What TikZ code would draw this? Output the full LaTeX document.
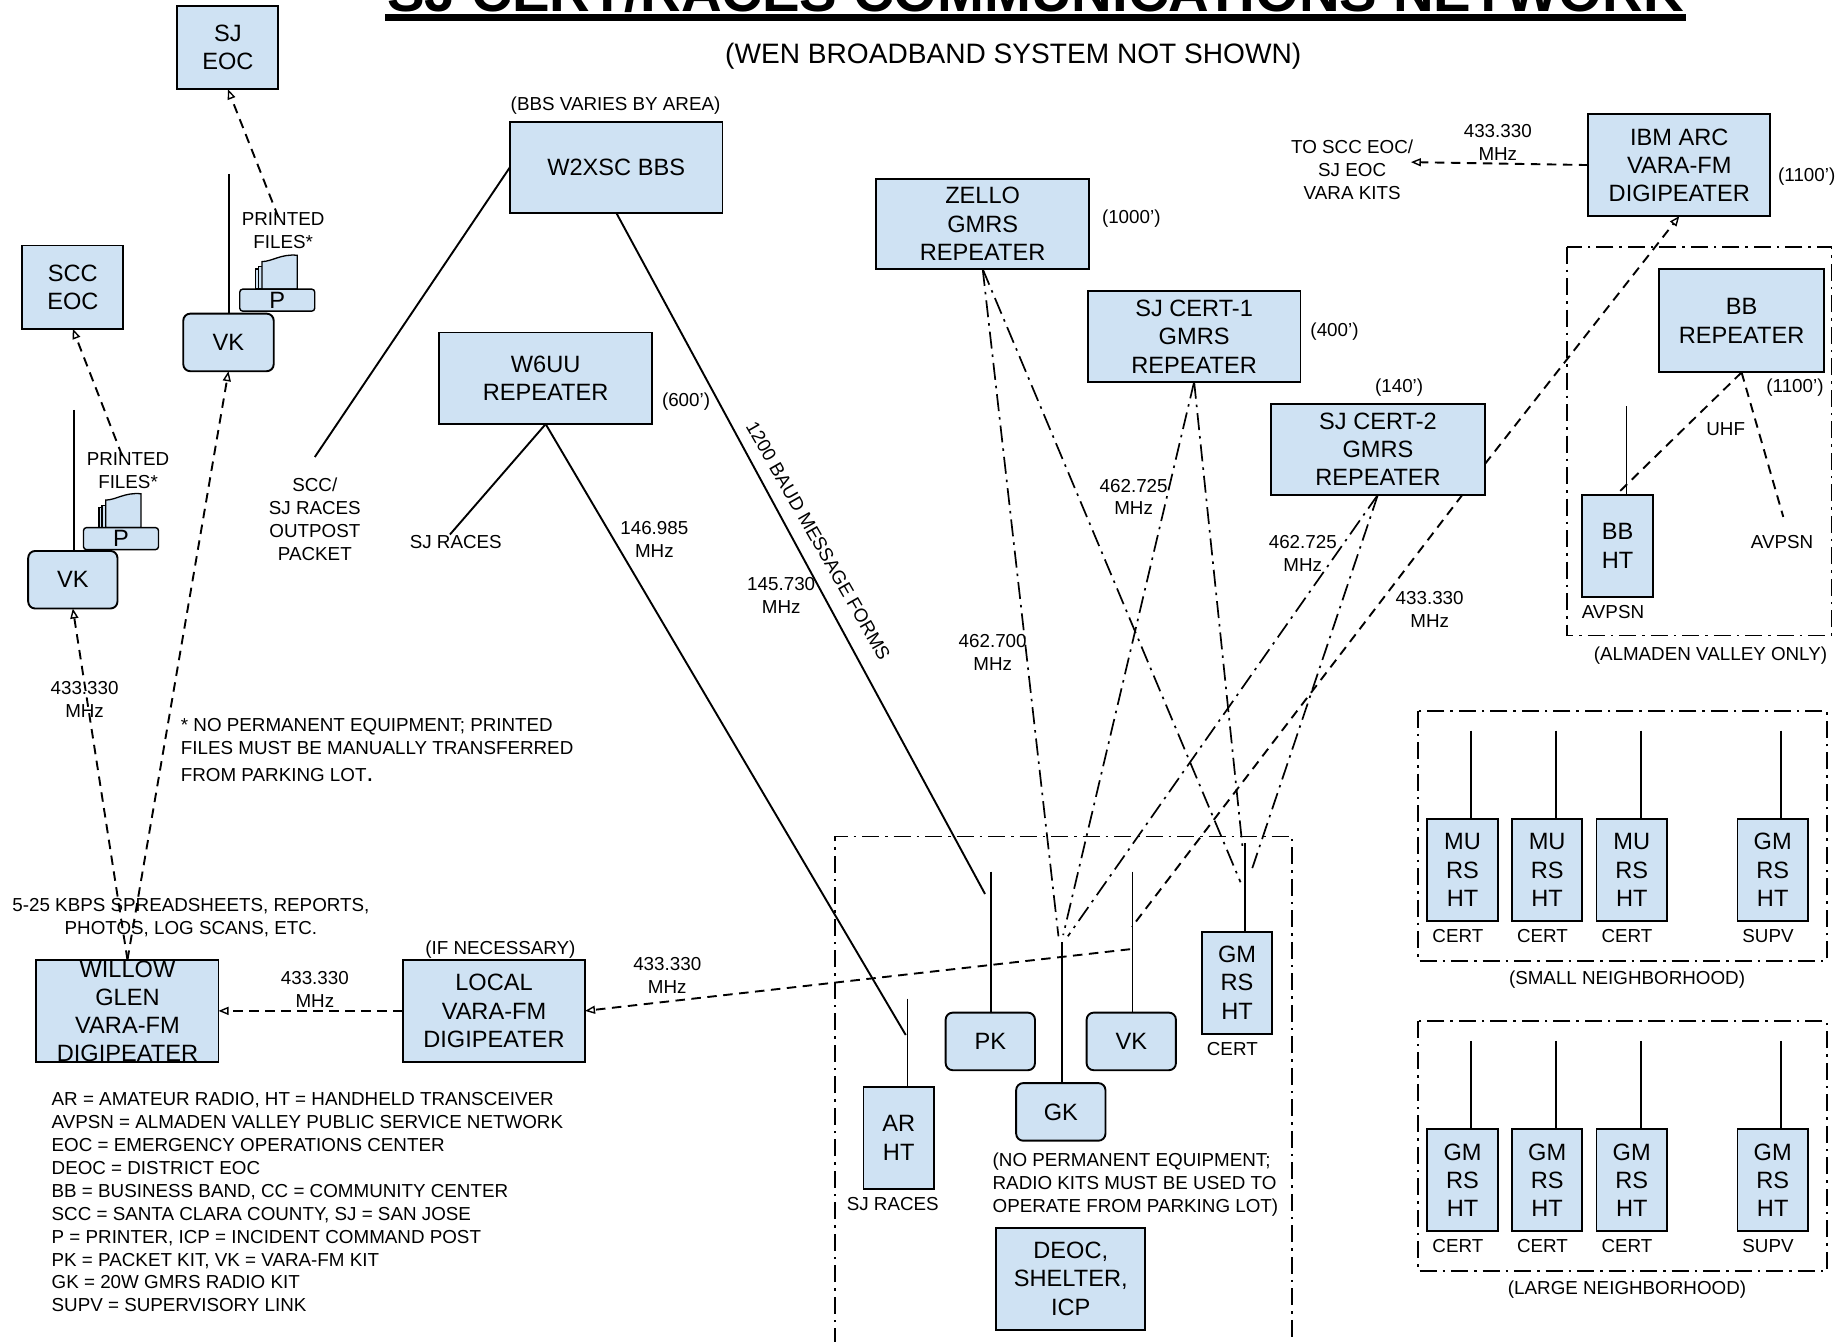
\documentclass[tikz,border=0pt]{standalone}
\usepackage{fontspec}
\setmainfont{Liberation Sans}
\usetikzlibrary{arrows.meta}
\definecolor{boxblue}{HTML}{CFE2F3}
\tikzset{
  base/.style={line width=1.9pt,draw=black},
  sq/.style={base,fill=boxblue,inner sep=0pt,outer sep=0pt,align=center,font=\boxfont},
  rnd/.style={sq,rounded corners=7pt},
  lb/.style={inner sep=0pt,outer sep=0pt,align=center,font=\lblfont},
  lbl/.style={lb,align=left,anchor=west},
  solidln/.style={base},
  dsh/.style={base,dash pattern=on 9.5pt off 6.5pt},
  dshar/.style={dsh,-{Triangle[open,length=10pt,width=8pt,line width=1.4pt]}},
  dd/.style={line width=1.7pt,draw=black,dash pattern=on 17pt off 6pt on 2.5pt off 6pt},
}
\newcommand{\boxfont}{\fontsize{23.6}{28.2}\selectfont}
\newcommand{\lblfont}{\fontsize{18.8}{22.9}\selectfont}
\newcommand{\bx}[7][sq]{\node[#1,minimum width={(#5-#3)*1.1747pt},minimum height={(#6-#4)*1.1747pt}] (#2) at ({(#3+#5)/2},{(#4+#6)/2}) {\raisebox{0pt}[\dimexpr\height+5.2pt\relax][\depth]{\begin{tabular}{@{}c@{}}#7\end{tabular}}};}
\newcommand{\ant}[5]{\coordinate (#1) at (#2,#3); \draw[solidln] (#1) -- (#4 |- #5);}
\newcommand{\printer}[3]{%
  \begin{scope}[shift={(#2,#3)}]
    \draw[line width=1.2pt,fill=boxblue] (13.3,32.5) -- (13.3,15.5) -- (20,15.5) -- (20,32.5) -- cycle;
    \draw[line width=1.2pt,fill=boxblue] (15.8,32.5) -- (15.8,13.5) -- (20,13.5) -- (20,32.5) -- cycle;
    \draw[line width=1.3pt,fill=boxblue] (19,32.5) -- (19,9.2) .. controls (28,9) and (35,2.5) .. (49,3.8) -- (49,32.5) -- cycle;
    \node[rnd,line width=1.4pt,rounded corners=3pt,minimum width=75pt,minimum height=22pt] (#1) at (32,42) {P};
  \end{scope}}
\begin{document}
\begin{tikzpicture}[x=1.1747pt,y=-1.1747pt]
\useasboundingbox (0,0) rectangle (1568,1142);
% title
\node[inner sep=0pt,font=\fontsize{56.3}{60}\selectfont\bfseries,anchor=base] (title) at (881.5,10) {SJ CERT/RACES COMMUNICATIONS NETWORK};
\fill (328,12) rectangle (1435,17.5);
\node[lb,font=\fontsize{28.1}{30}\selectfont] (sub) at (862.5,47.5) {(WEN BROADBAND SYSTEM NOT SHOWN)};

% group frames
\draw[dd] (1334,210) rectangle (1559,541);
\draw[dd] (711,1145) -- (711,712) -- (1100,712) -- (1100,1145);
\draw[dd] (1207,605) rectangle (1555,818);
\draw[dd] (1207,869) rectangle (1555,1082);

% boxes
\bx{sjeoc}{151}{5}{237}{76}{SJ\\EOC}
\bx{sccoc}{19}{209}{105}{280}{SCC\\EOC}
\bx{bbs}{434}{104}{615}{181}{W2XSC BBS}
\bx{wsix}{374}{283}{555}{361}{W6UU\\REPEATER}
\bx{zello}{746}{152}{927}{229}{ZELLO\\GMRS\\REPEATER}
\bx{certa}{926}{248}{1107}{325}{SJ CERT-1\\GMRS\\REPEATER}
\bx{certb}{1082}{344}{1264}{421}{SJ CERT-2\\GMRS\\REPEATER}
\bx{ibm}{1352}{97}{1507}{184}{IBM ARC\\VARA-FM\\DIGIPEATER}
\bx{bbr}{1412}{229}{1553}{317}{BB\\REPEATER}
\bx{bbht}{1347}{421}{1407}{508}{BB\\HT}
\bx[rnd]{vkt}{156}{267}{233}{316}{VK}
\bx[rnd]{vkb}{24}{469}{100}{518}{VK}
\bx{willow}{31}{817}{186}{904}{}
\node[lb,font=\boxfont] (willowt) at (108.5,861) {WILLOW\\GLEN\\VARA-FM\\DIGIPEATER};
\bx{local}{343}{817}{498}{904}{LOCAL\\VARA-FM\\DIGIPEATER}
\bx{arht}{735}{925}{795}{1012}{AR\\HT}
\bx[rnd]{pk}{805}{862}{881}{911}{PK}
\bx[rnd]{vkp}{925}{862}{1001}{911}{VK}
\bx[rnd]{gk}{865}{922}{941}{971}{GK}
\bx{gmrsp}{1023}{793}{1083}{880}{GM\\RS\\HT}
\bx{deoc}{848}{1045}{975}{1132}{DEOC,\\SHELTER,\\ICP}
\bx{sa}{1215}{697}{1275}{784}{MU\\RS\\HT}
\bx{sb}{1287}{697}{1347}{784}{MU\\RS\\HT}
\bx{sc}{1359}{697}{1419}{784}{MU\\RS\\HT}
\bx{sd}{1479}{697}{1539}{784}{GM\\RS\\HT}
\bx{la}{1215}{961}{1275}{1048}{GM\\RS\\HT}
\bx{lb}{1287}{961}{1347}{1048}{GM\\RS\\HT}
\bx{lc}{1359}{961}{1419}{1048}{GM\\RS\\HT}
\bx{ld}{1479}{961}{1539}{1048}{GM\\RS\\HT}
\printer{pa}{204}{213.5}
\printer{pb}{71}{416.5}

% free ends
\coordinate (sjpr) at (237,185);
\coordinate (sccpr) at (104,388);
\coordinate (bbsend) at (268,389);
\coordinate (pkend) at (838.5,761);
\coordinate (sjr) at (383,455);
\coordinate (arend) at (771,881);
\coordinate (zg) at (901,797);
\coordinate (zc) at (1056,751);
\coordinate (ag) at (905,796);
\coordinate (ac) at (1058,724);
\coordinate (bg) at (909,797);
\coordinate (bc) at (1066,739);
\coordinate (bright) at (1264,395);
\coordinate (blow) at (1245,421);
\coordinate (vkdn) at (963.5,789);
\coordinate (vkdm) at (962,808);
\coordinate (toscc) at (1201,138);
\coordinate (bbhtc) at (1376,421);
\coordinate (avp) at (1518,440);

% antennas
\ant{a1}{195}{148}{a1}{vkt.north}
\ant{a2}{63}{349}{a2}{vkb.north}
\ant{a3}{843.5}{742}{a3}{pk.north}
\ant{a4}{904}{802}{a4}{gk.north}
\ant{a5}{964}{742}{a5}{vkp.north}
\ant{a6}{1060}{718}{a6}{gmrsp.north}
\ant{a7}{772.5}{850}{a7}{arht.north}
\ant{a8}{1384.5}{346}{a8}{bbht.north}
\ant{s1}{1252}{622}{s1}{sa.north}
\ant{s2}{1324.5}{622}{s2}{sb.north}
\ant{s3}{1396.5}{622}{s3}{sc.north}
\ant{s4}{1516}{622}{s4}{sd.north}
\ant{l1}{1252}{886}{l1}{la.north}
\ant{l2}{1324.5}{886}{l2}{lb.north}
\ant{l3}{1396.5}{886}{l3}{lc.north}
\ant{l4}{1516}{886}{l4}{ld.north}

% connectors
\draw[dshar] (sjpr) -- (sjeoc.south);
\draw[dshar] (sccpr) -- (sccoc.south);
\draw[dshar] (willow.north) -- (vkb.south);
\draw[dshar] (willow.north) -- (vkt.south);
\draw[solidln] (bbs.west) -- (bbsend);
\draw[solidln] (bbs.south) -- (pkend);
\draw[solidln] (wsix.south) -- (sjr);
\draw[solidln] (wsix.south) -- (arend);
\draw[dd] (zello.south) -- (zg);
\draw[dd] (zello.south) -- (zc);
\draw[dd] (certa.south) -- (ag);
\draw[dd] (certa.south) -- (ac);
\draw[dd] (certb.south) -- (bg);
\draw[dd] (certb.south) -- (bc);
\draw[dshar] (bright) -- (ibm.south);
\draw[dsh] (blow) -- (vkdn);
\draw[dshar] (vkdm) -- (local.east);
\draw[dshar] (local.west) -- (willow.east);
\draw[dshar] (ibm.west) -- (toscc);
\draw[dsh] (bbr.south) -- (bbhtc);
\draw[dsh] (bbr.south) -- (avp);

% labels
\node[lb] (t1) at (524,90) {(BBS VARIES BY AREA)};
\node[lb] (t2) at (268,442) {SCC/\\SJ RACES\\OUTPOST\\PACKET};
\node[lb] (t3) at (388,461) {SJ RACES};
\node[lb] (t4) at (584,342) {(600’)};
\node[lb] (t5) at (557,459) {146.985\\MHz};
\node[lb] (t6) at (665,507) {145.730\\MHz};
\node[lb,rotate=-60.2] (t7) at (696.5,460.5) {1200 BAUD MESSAGE FORMS};
\node[lb] (t8) at (963,186) {(1000’)};
\node[lb] (t9) at (1136,282) {(400’)};
\node[lb] (t10) at (1191,330) {(140’)};
\node[lb] (t11) at (1538,150) {(1100’)};
\node[lb] (t12) at (1528,330) {(1100’)};
\node[lb] (t13) at (1275,121) {433.330\\MHz};
\node[lb] (t14) at (1151,144.5) {TO SCC EOC/\\SJ EOC\\VARA KITS};
\node[lb] (t15) at (965,423) {462.725\\MHz};
\node[lb] (t16) at (1109,471) {462.725\\MHz};
\node[lb] (t17) at (1217,518.5) {433.330\\MHz};
\node[lb] (t18) at (845,555) {462.700\\MHz};
\node[lb] (t19) at (1469,365) {UHF};
\node[lb] (t20) at (1517,461) {AVPSN};
\node[lb] (t21) at (1373,521) {AVPSN};
\node[lb] (t22) at (1456,558) {(ALMADEN VALLEY ONLY)};
\node[lb] (t23) at (72,595.5) {433.330\\MHz};
\node[lb] (t24) at (241,196.5) {PRINTED\\FILES*};
\node[lb] (t25) at (109,400.5) {PRINTED\\FILES*};
\node[lbl] (t26) at (154,638.5) {* NO PERMANENT EQUIPMENT; PRINTED\\FILES MUST BE MANUALLY TRANSFERRED\\[4pt]FROM PARKING LOT{\fontsize{26}{26}\selectfont.}};
\node[lb] (t27) at (162.5,781) {5-25 KBPS SPREADSHEETS, REPORTS,\\PHOTOS, LOG SCANS, ETC.};
\node[lb] (t28) at (426,808) {(IF NECESSARY)};
\node[lb] (t29) at (268,842.5) {433.330\\MHz};
\node[lb] (t30) at (568,830.5) {433.330\\MHz};
\node[lbl] (t31) at (44,1023.5) {AR = AMATEUR RADIO, HT = HANDHELD TRANSCEIVER\\AVPSN = ALMADEN VALLEY PUBLIC SERVICE NETWORK\\EOC = EMERGENCY OPERATIONS CENTER\\DEOC = DISTRICT EOC\\BB = BUSINESS BAND, CC = COMMUNITY CENTER\\SCC = SANTA CLARA COUNTY, SJ = SAN JOSE\\P = PRINTER, ICP = INCIDENT COMMAND POST\\PK = PACKET KIT, VK = VARA-FM KIT\\GK = 20W GMRS RADIO KIT\\SUPV = SUPERVISORY LINK};
\node[lb] (t32) at (760,1025) {SJ RACES};
\node[lb] (t33) at (1049,893) {CERT};
\node[lbl] (t34) at (845,1008.5) {(NO PERMANENT EQUIPMENT;\\RADIO KITS MUST BE USED TO\\OPERATE FROM PARKING LOT)};
\node[lb] (t35) at (1241,797) {CERT};
\node[lb] (t36) at (1313,797) {CERT};
\node[lb] (t37) at (1385,797) {CERT};
\node[lb] (t38) at (1505,797) {SUPV};
\node[lb] (t39) at (1385,834) {(SMALL NEIGHBORHOOD)};
\node[lb] (t40) at (1241,1061) {CERT};
\node[lb] (t41) at (1313,1061) {CERT};
\node[lb] (t42) at (1385,1061) {CERT};
\node[lb] (t43) at (1505,1061) {SUPV};
\node[lb] (t44) at (1385,1098) {(LARGE NEIGHBORHOOD)};
\end{tikzpicture}
\end{document}
